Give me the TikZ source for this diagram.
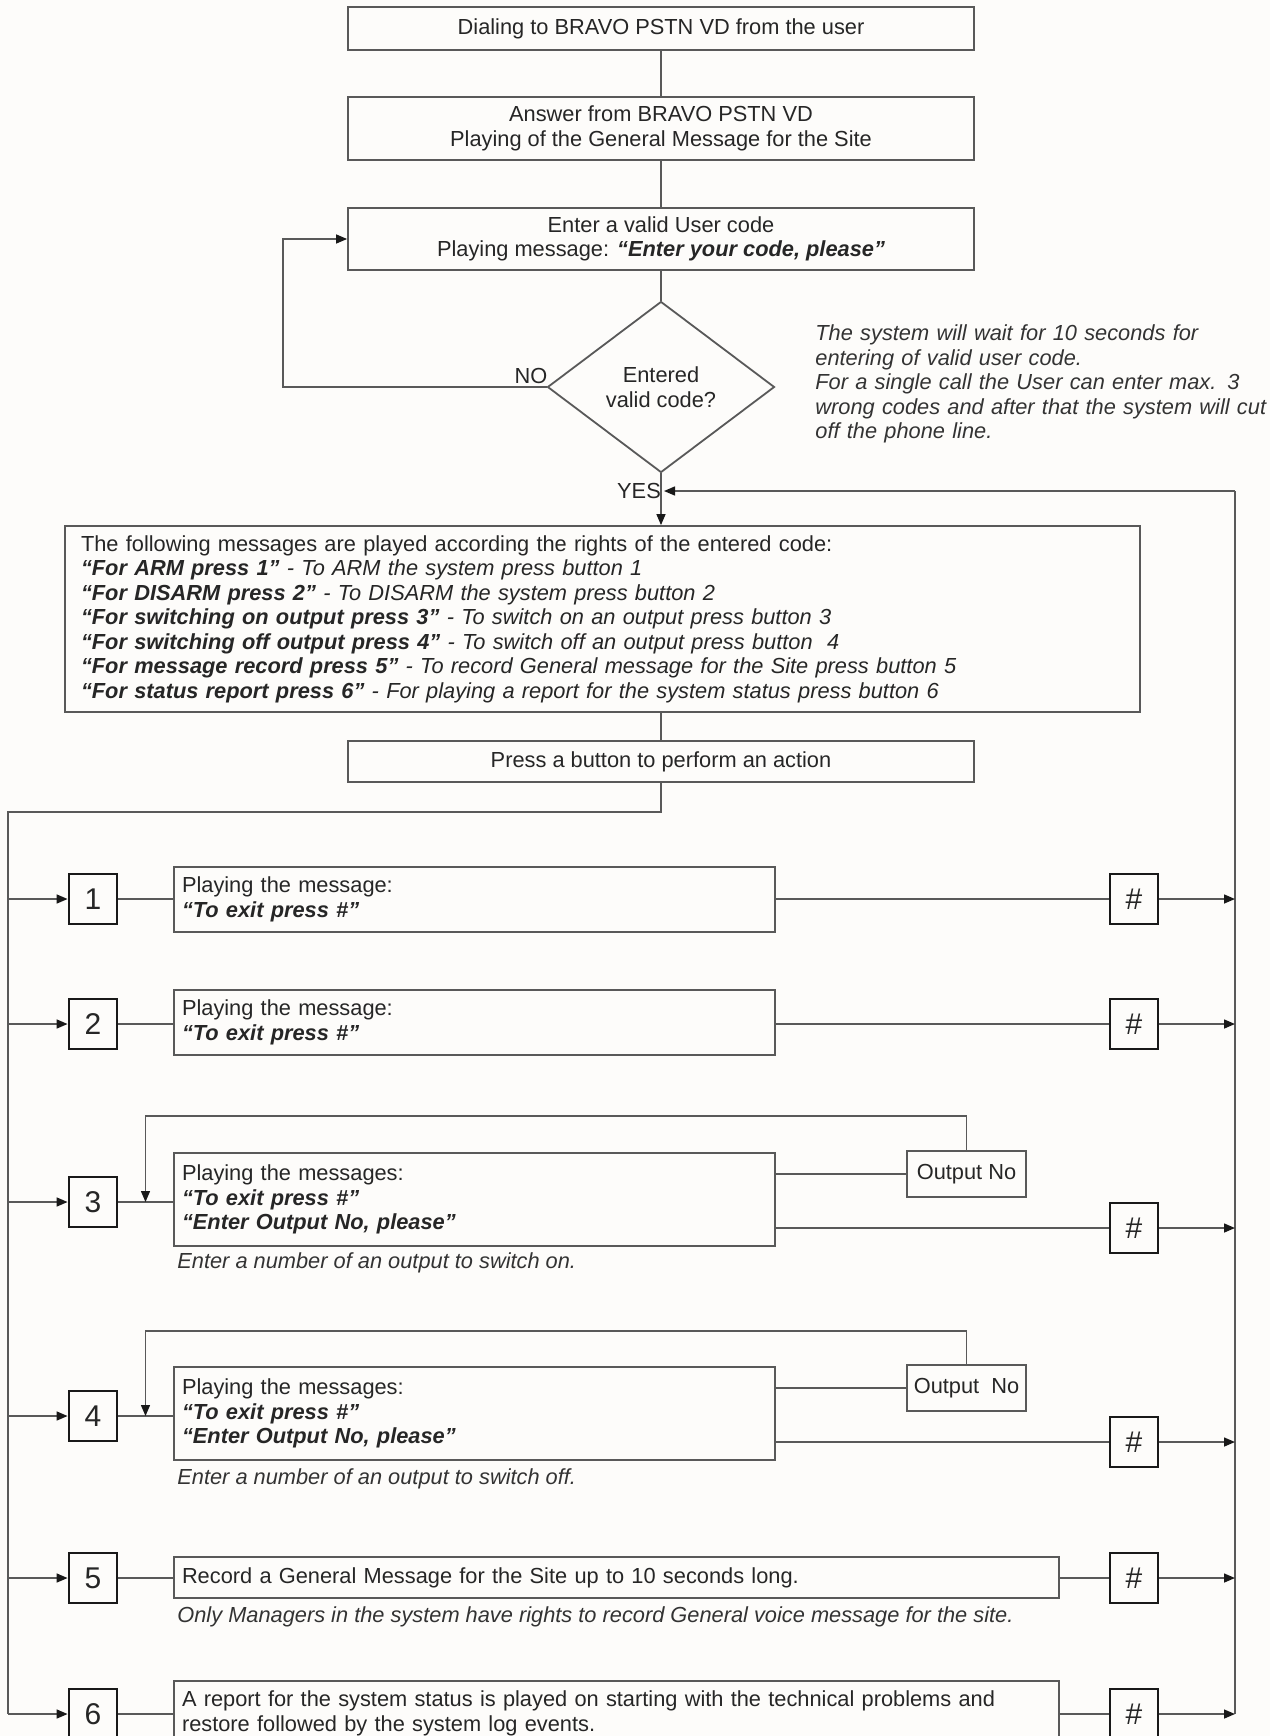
\documentclass[tikz,border=0pt]{standalone}
\usepackage{fontspec}
\setmainfont{Liberation Sans}
\usetikzlibrary{arrows.meta,shapes.geometric}
\newcommand\bfit[1]{\textbf{\textit{#1}}}
\definecolor{paper}{RGB}{253,252,250}
\tikzset{
  base/.style={draw=black!65, line width=0.9pt, inner sep=0pt, text=black!85},
  topbox/.style={base, minimum width=313pt, align=center},
  leftbox/.style={base, inner xsep=4pt, align=left},
  msgbox/.style={leftbox, text width=292.5pt},
  widebox/.style={leftbox, text width=434.5pt},
  numbox/.style={draw=black!90, line width=1.4pt, minimum width=24pt, minimum height=25pt, inner sep=0pt, text=black!85, font=\fontsize{15}{17}\selectfont},
  outbox/.style={base, minimum width=59.5pt, minimum height=23pt},
  conn/.style={draw=black!65, line width=0.7pt},
  arr/.style={conn, -{Triangle[length=5.5pt,width=4.5pt,color=black!90]}},
  note/.style={font=\fontsize{10.9}{12.25}\selectfont\itshape, align=left, inner sep=0pt, text=black!80},
  lbl/.style={inner sep=0pt, text=black!85},
}
\begin{document}
\begin{tikzpicture}[x=0.5pt,y=-0.5pt, every node/.append style={font=\fontsize{10.9}{12.25}\selectfont}]
\useasboundingbox (0,0) rectangle (1270,1736);
\fill[paper] (0,0) rectangle (1270,1736);

% main flow
\node[topbox, minimum height=21.5pt] (b1) at (661,28.5) {Dialing to BRAVO PSTN VD from the user};
\node[topbox, minimum height=31.5pt] (b2) at (661,128.5) {Answer from BRAVO PSTN VD\\Playing of the General Message for the Site};
\node[topbox, minimum height=31pt] (b3) at (661,239) {Enter a valid User code\\Playing message: \bfit{“Enter your code, please”}};
\node[diamond, base, minimum width=113.5pt, minimum height=85.5pt, align=center] (d) at (661,387) {Entered\\valid code?};
\node[lbl] (no) at (531,376) {NO};
\node[lbl] (yes) at (639,491) {YES};
\node[note, anchor=west, text width=235pt] (note) at (815,384) {The system will wait for 10 seconds for\\entering of valid user code.\\For a single call the User can enter max. 3\\wrong codes and after that the system will cut\\off the phone line.};

\node[leftbox, inner xsep=8pt, text width=521.5pt, minimum height=93pt] (b4) at (602.5,619) {The following messages are played according the rights of the entered code:\\
\bfit{“For ARM press 1”} \textit{- To ARM the system press button 1}\\
\bfit{“For DISARM press 2”} \textit{- To DISARM the system press button 2}\\
\bfit{“For switching on output press 3”} \textit{- To switch on an output press button 3}\\
\bfit{“For switching off output press 4”} \textit{- To switch off an output press button~ 4}\\
\bfit{“For message record press 5”} \textit{- To record General message for the Site press button 5}\\
\bfit{“For status report press 6”} \textit{- For playing a report for the system status press button 6}};
\node[topbox, minimum height=20.5pt] (b5) at (661,761.5) {Press a button to perform an action};

\draw[conn] (b1) -- (b2);
\draw[conn] (b2) -- (b3);
\draw[conn] (b3) -- (d);
\draw[arr] (d.south) -- (d.south |- b4.north);
\draw[conn] (b5.north |- b4.south) -- (b5.north);
\coordinate (noc) at (283,387);
\draw[arr] (d.west) -- (noc) |- (b3.west);

% buses
\coordinate (ltop) at (8,812);
\coordinate (lbot) at (8,1714);
\coordinate (rtop) at (1235,491);
\coordinate (rbot) at (1235,1714);
\coordinate (yesin) at (661,491);
\draw[conn] (b5.south) |- (ltop) -- (lbot);
\draw[conn] (rbot) -- (rtop);
\draw[arr, shorten >=1.5pt] (rtop) -- (yesin);

% rows
\node[numbox] (n1) at (93,899) {1};
\node[msgbox, minimum height=32.5pt] (m1) at (474.5,899.5) {Playing the message:\\\bfit{“To exit press \#”}};
\node[numbox] (h1) at (1134,899) {\#};

\node[numbox] (n2) at (93,1024) {2};
\node[msgbox, minimum height=32.5pt] (m2) at (474.5,1022.5) {Playing the message:\\\bfit{“To exit press \#”}};
\node[numbox] (h2) at (1134,1024) {\#};

\node[numbox] (n3) at (93,1202) {3};
\node[msgbox, minimum height=46.5pt] (m3) at (474.5,1199.5) {Playing the messages:\\\bfit{“To exit press \#”}\\\bfit{“Enter Output No, please”}};
\node[outbox] (o3) at (966.5,1174) {Output No};
\node[numbox] (h3) at (1134,1228) {\#};
\node[note, anchor=west] (c3) at (177,1263) {Enter a number of an output to switch on.};

\node[numbox] (n4) at (93,1416) {4};
\node[msgbox, minimum height=46.5pt] (m4) at (474.5,1413.5) {Playing the messages:\\\bfit{“To exit press \#”}\\\bfit{“Enter Output No, please”}};
\node[outbox] (o4) at (966.5,1388) {Output~ No};
\node[numbox] (h4) at (1134,1442) {\#};
\node[note, anchor=west] (c4) at (177,1479) {Enter a number of an output to switch off.};

\node[numbox] (n5) at (93,1578) {5};
\node[widebox, minimum height=20.5pt] (m5) at (616.5,1577.5) {Record a General Message for the Site up to 10 seconds long.};
\node[numbox] (h5) at (1134,1578) {\#};
\node[note, anchor=west] (c5) at (177,1617) {Only Managers in the system have rights to record General voice message for the site.};

\node[numbox] (n6) at (93,1714) {6};
\node[widebox, minimum height=32.5pt] (m6) at (616.5,1713.5) {A report for the system status is played on starting with the technical problems and\\restore followed by the system log events.};
\node[numbox] (h6) at (1134,1714) {\#};

\foreach \i in {1,...,6} {
  \draw[arr] (ltop |- n\i) -- (n\i.west);
  \draw[conn] (n\i.east) -- (n\i.east -| m\i.west);
  \draw[conn] (h\i.west -| m\i.east) -- (h\i.west);
  \draw[arr] (h\i.east) -- (rtop |- h\i);
}
\draw[conn] (o3.west -| m3.east) -- (o3.west);
\draw[conn] (o4.west -| m4.east) -- (o4.west);
\coordinate (l3) at (145.5,1116);
\coordinate (l4) at (145.5,1331);
\draw[arr] (o3.north) |- (l3) -- (l3 |- n3);
\draw[arr] (o4.north) |- (l4) -- (l4 |- n4);
\end{tikzpicture}
\end{document}
